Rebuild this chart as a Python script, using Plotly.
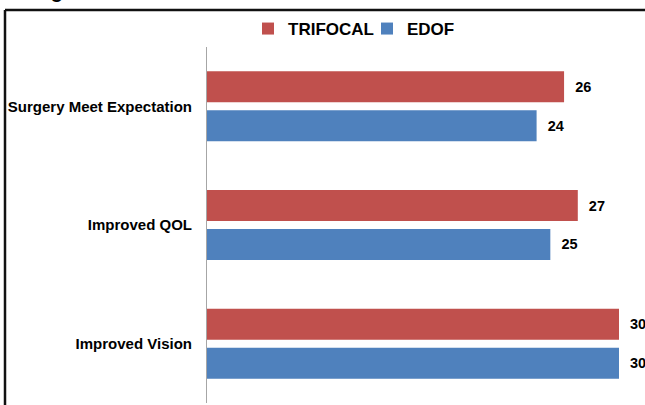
import plotly.graph_objects as go

categories = ["Surgery Meet Expectation", "Improved QOL", "Improved Vision"]
trifocal = [26, 27, 30]
edof = [24, 25, 30]
series_names = ["TRIFOCAL", "EDOF"]
colors = ["#C0504D", "#4F81BD"]

W, H = 645, 405
L, R, T, B = 207, 5, 47, 2
pw, ph = W - L - R, H - T - B

def px_x(p):
    return (p - L) / pw

def px_y(p):
    return 1 + (T - p) / ph

FONT = "Liberation Sans, Arial, sans-serif"

fig = go.Figure()
for name, vals, col in zip(series_names, [trifocal, edof], colors):
    fig.add_trace(go.Bar(
        y=categories, x=vals, name=name, orientation="h",
        marker=dict(color=col, line=dict(width=0)),
        texttemplate="\u00a0\u00a0%{x}", textposition="outside",
        outsidetextfont=dict(family=FONT, size=14.5, color="#000000", weight="bold"),
        constraintext="none", cliponaxis=False,
    ))

fig.update_layout(
    width=W, height=H,
    margin=dict(l=L, r=R, t=T, b=B, autoexpand=False),
    paper_bgcolor="white", plot_bgcolor="white",
    barmode="group", bargap=0.343, bargroupgap=0.205,
    showlegend=True,
    legend=dict(orientation="h", xref="paper", x=px_x(248), xanchor="left",
                yref="container", y=1 - 11 / H, yanchor="top",
                font=dict(family=FONT, size=17, color="#000000", weight="bold"),
                bgcolor="rgba(0,0,0,0)", traceorder="normal",
                entrywidth=74, entrywidthmode="pixels"),
    xaxis=dict(range=[0, pw / ((619 - 207) / 30)], showticklabels=False,
               showgrid=False, zeroline=False, showline=False, fixedrange=True),
    yaxis=dict(autorange="reversed", showgrid=False, zeroline=False,
               showline=True, linecolor="#a6a6a6", linewidth=1, ticks="",
               ticklabelstandoff=11,
               tickfont=dict(family=FONT, size=15, color="#000000", weight="bold")),
    shapes=[
        dict(type="line", xref="paper", yref="paper",
             x0=px_x(5), x1=px_x(5), y0=px_y(420), y1=px_y(10),
             line=dict(color="#111111", width=2.5)),
        dict(type="line", xref="paper", yref="paper",
             x0=px_x(5), x1=px_x(660), y0=px_y(10), y1=px_y(10),
             line=dict(color="#111111", width=2.5)),
    ],
    annotations=[
        dict(text="Fig", xref="paper", yref="paper", x=px_x(31), y=px_y(4.5),
             xanchor="left", yanchor="bottom", showarrow=False,
             font=dict(family=FONT, size=20, color="#000000", weight="bold")),
    ],
)

fig.write_html("out.html")
